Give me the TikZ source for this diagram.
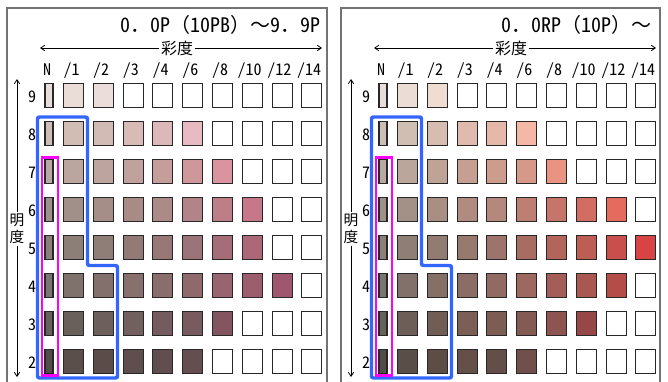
\documentclass[tikz,border=0pt]{standalone}
\usepackage{fontspec}
\setmainfont{Noto Sans CJK JP}
\newfontfamily\halffont[RawFeature=+hwid]{Noto Sans CJK JP}
\usepackage{xcolor}
\usetikzlibrary{arrows.meta}
\definecolor{framegray}{RGB}{115,115,115}
\definecolor{chipline}{RGB}{40,40,40}
\definecolor{groupblue}{RGB}{51,102,255}
\definecolor{groupmagenta}{RGB}{255,0,255}

\newcommand{\hw}[1]{{\halffont #1}}

\tikzset{
  chip/.style={draw=chipline, line width=0.8pt, minimum width=15pt, minimum height=18pt, inner sep=0pt},
  chipN/.style={chip, minimum width=6pt},
  collabel/.style={font=\halffont\fontsize{12}{12}\selectfont, inner sep=0pt, anchor=base},
  titlelabel/.style={font=\fontsize{15}{15}\selectfont, inner sep=0pt, anchor=base east},
  axislabel/.style={fill=white, inner sep=1pt},
  axisline/.style={line width=0.6pt, -{Straight Barb[length=3pt,width=4pt]}},
  panelframe/.style={draw=framegray, line width=1.2pt},
  bluegroup/.style={draw=groupblue, line width=2.6pt, rounded corners=1.5pt},
  magentagroup/.style={draw=groupmagenta, line width=2.2pt}
}

% one row of chips: #1 panel tag, #2 x offset, #3 value, #4 neutral colour, #5 chroma colours
\newcommand{\chiprow}[5]{%
  \definecolor{chipfillN}{HTML}{#4}%
  \node[chipN, fill=chipfillN] (#1-#3-N) at ({#2+49}, {95.5+38*(9-#3)}) {};
  \foreach \hex [count=\k] in {#5} {
    \definecolor{chipfill}{HTML}{\hex}
    \node[chip, fill=chipfill] (#1-#3-\k) at ({#2+73.5+29.8*(\k-1)}, {95.5+38*(9-#3)}) {};
  }}

\begin{document}
\begin{tikzpicture}[x=0.75pt, y=-0.75pt]
  \clip (0,0) rectangle (668,382);

  % panel frames
  \draw[panelframe] (7,8) rectangle (327,400);
  \draw[panelframe] (341,8) rectangle (660,400);

  % titles
  \node[titlelabel] (ttlP) at (321,32) {\hw{0}．\hw{0P}（\hw{10PB}）～\hw{9}．\hw{9P}};
  \node[titlelabel] (ttlRP) at (652,32) {\hw{0}．\hw{0RP}（\hw{10P}）～};

  % axes and labels common to both panels
  \foreach \off/\tag in {0/P, 334/RP} {
    % chroma axis
    \node[axislabel, font=\fontsize{12}{12}\selectfont] (cs\tag) at (\off+177,48) {彩度};
    \coordinate (ch\tag-l) at (\off+40,48);
    \coordinate (ch\tag-r) at (\off+322,48);
    \draw[axisline] (cs\tag) -- (ch\tag-l);
    \draw[axisline] (cs\tag) -- (ch\tag-r);
    % value axis
    \node[axislabel, align=center, font=\fontsize{11}{12.75}\selectfont] (vs\tag) at (\off+17,229) {明\\度};
    \coordinate (vl\tag-t) at (\off+17,79);
    \coordinate (vl\tag-b) at (\off+17,377);
    \draw[axisline] (vs\tag) -- (vl\tag-t);
    \draw[axisline] (vs\tag) -- (vl\tag-b);
    % chroma labels
    \node[collabel] (cl\tag-N) at (\off+47,75.5) {N};
    \foreach \lab [count=\k] in {/1,/2,/3,/4,/6,/8,/10,/12,/14} {
      \node[collabel] (cl\tag-\k) at ({\off+71.5+29.7*(\k-1)},75.5) {\lab};
    }
    % value labels
    \foreach \v in {2,...,9} {
      \node[collabel] (vn\tag-\v) at (\off+32,{102+38*(9-\v)}) {\v};
    }
  }

  % P chips
  \chiprow{P}{0}{9}{E5DEDA}{EADDD8,EBDDD9,FFFFFF,FFFFFF,FFFFFF,FFFFFF,FFFFFF,FFFFFF,FFFFFF}
  \chiprow{P}{0}{8}{CCBDB6}{D1BDB3,D3BBB5,D8BAB7,DCB8BA,E8BAC2,FFFFFF,FFFFFF,FFFFFF,FFFFFF}
  \chiprow{P}{0}{7}{B7A9A2}{BAA69F,BDA49F,C1A19D,C59E9C,CD979B,D9949F,FFFFFF,FFFFFF,FFFFFF}
  \chiprow{P}{0}{6}{9D9289}{A1908A,A58D88,A88B87,AB8A88,B3838A,BE7E88,C6788A,FFFFFF,FFFFFF}
  \chiprow{P}{0}{5}{888079}{8C7F78,8F7D77,937A77,977877,9B737A,A46D79,AC6878,FFFFFF,FFFFFF}
  \chiprow{P}{0}{4}{7A7570}{7F716C,836F6B,87706E,8A6D6D,8E6A6D,976470,9C5E6F,9E576F,FFFFFF}
  \chiprow{P}{0}{3}{66615B}{6A605B,6D5F5B,72605E,745B5F,785B61,835560,FFFFFF,FFFFFF,FFFFFF}
  \chiprow{P}{0}{2}{524D49}{5A4F4A,5B4C49,5E4E4D,614E50,654E51,FFFFFF,FFFFFF,FFFFFF,FFFFFF}

  % RP chips
  \chiprow{RP}{334}{9}{E5DEDA}{EBDDD6,F0DDD1,FFFFFF,FFFFFF,FFFFFF,FFFFFF,FFFFFF,FFFFFF,FFFFFF}
  \chiprow{RP}{334}{8}{CCBDB6}{D1BEB3,D7BDB1,DFBAAE,E6B8AA,F6B8A6,FFFFFF,FFFFFF,FFFFFF,FFFFFF}
  \chiprow{RP}{334}{7}{B7A9A1}{BBA69C,BFA397,C59F92,CC9C8D,D59889,E99482,FFFFFF,FFFFFF,FFFFFF}
  \chiprow{RP}{334}{6}{9D9289}{A39087,A98E84,AF8B80,B4887D,BE7E72,C6756A,D26D63,E56B5F,FFFFFF}
  \chiprow{RP}{334}{5}{888079}{8E7E75,927B72,97796E,9D746B,A86C62,B3655C,BD5E55,C84F4B,D84445}
  \chiprow{RP}{334}{4}{7A756F}{81716A,857067,8C6D65,916A62,9C6860,A35F57,A85850,B44C48,FFFFFF}
  \chiprow{RP}{334}{3}{66615B}{6D5F58,6F5D56,7B5F56,7D5C54,845B53,8E5450,964849,FFFFFF,FFFFFF}
  \chiprow{RP}{334}{2}{524D48}{5A4F48,5E4D47,655049,644E49,704F4C,FFFFFF,FFFFFF,FFFFFF,FFFFFF}

  % groupings
  \foreach \off in {0,334} {
    \draw[bluegroup] (\off+37.5,117) -- (\off+87.5,117) -- (\off+87.5,265.5) -- (\off+117.5,265.5) -- (\off+117.5,378) -- (\off+37.5,378) -- cycle;
    \draw[magentagroup] (\off+42,157.5) rectangle (\off+58,375.5);
  }
\end{tikzpicture}
\end{document}
